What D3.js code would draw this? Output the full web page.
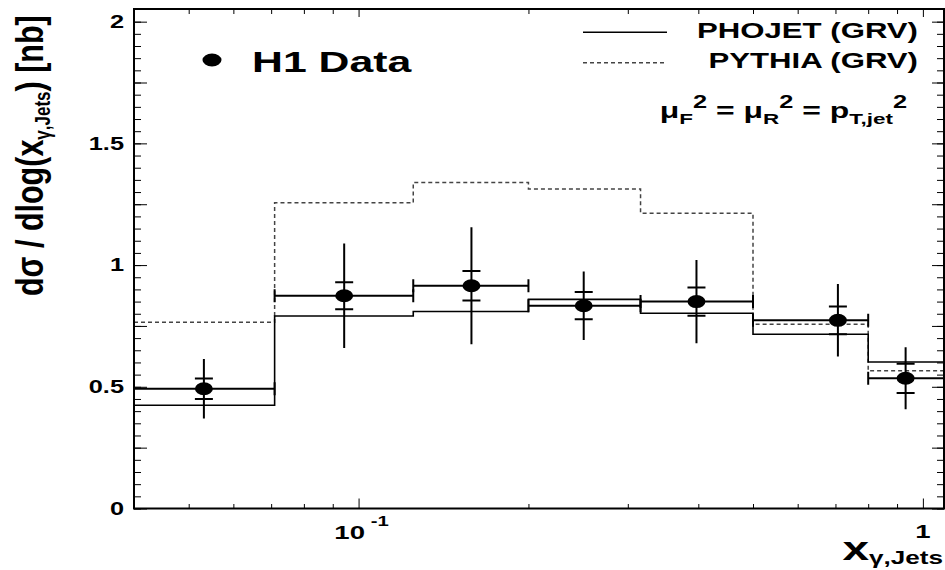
<!DOCTYPE html>
<html>
<head>
<meta charset="utf-8">
<script src="https://cdn.jsdelivr.net/npm/d3@7"></script>
<style>
  body { margin: 0; background: #fff; }
  text { font-family: "Liberation Sans", Arial, Helvetica, sans-serif; font-weight: bold; fill: #000; }
</style>
</head>
<body>
<div id="chart"></div>
<script>
// bins in x_gamma,Jets (log axis)
const binEdges = [0.04, 0.071, 0.125, 0.2, 0.316, 0.5, 0.8, 1.1];
// model predictions per bin
const phojet = [0.424, 0.791, 0.809, 0.859, 0.802, 0.716, 0.602];
const pythia = [0.765, 1.256, 1.339, 1.313, 1.213, 0.757, 0.566];
// H1 data points
const h1X = [0.0532, 0.0943, 0.1585, 0.2506, 0.397, 0.707, 0.932];
const h1Y = [0.492, 0.874, 0.915, 0.833, 0.850, 0.773, 0.535];
const h1Stat = [0.042, 0.055, 0.061, 0.056, 0.058, 0.057, 0.060];
const h1Tot = [0.122, 0.215, 0.240, 0.141, 0.171, 0.149, 0.127];
// axis ticks
const yLabelTicks = [0, 0.5, 1, 1.5, 2];
const yLabels = ["0", "0.5", "1", "1.5", "2"];
const xMajorTicks = [0.1, 1];
const xMinorTicks = [0.05, 0.06, 0.07, 0.08, 0.09, 0.2, 0.3, 0.4, 0.5, 0.6, 0.7, 0.8, 0.9];

const W = 945, H = 570;
const pLeft = 134, pRight = 944, pTop = 9, pBottom = 508.5;
const sx = 1.45; // text is drawn wide in the original

const svg = d3.select("#chart").append("svg").attr("width", W).attr("height", H);

const x = d3.scaleLog().domain([0.04, 1.09]).range([pLeft, pRight]);
const y = d3.scaleLinear().domain([0, 2.052]).range([pBottom, pTop]);

svg.append("clipPath").attr("id", "plot")
  .append("rect").attr("x", pLeft).attr("y", pTop).attr("width", pRight - pLeft).attr("height", pBottom - pTop);

// ticks ------------------------------------------------------------
function noDomain(g) { g.select(".domain").remove(); g.selectAll("line").attr("stroke", "#000").attr("stroke-width", 1); }

const yMinor = d3.range(0, 2.001, 0.05).map(v => +v.toFixed(2));
const yMid = d3.range(0, 2.001, 0.25);

svg.append("g").attr("transform", `translate(${pLeft},0)`)
  .call(d3.axisLeft(y).tickValues(yMinor).tickSize(-7).tickFormat("")).call(noDomain);
svg.append("g").attr("transform", `translate(${pLeft},0)`)
  .call(d3.axisLeft(y).tickValues(yMid).tickSize(-13).tickFormat("")).call(noDomain);
svg.append("g").attr("transform", `translate(${pRight},0)`)
  .call(d3.axisRight(y).tickValues(yMinor).tickSize(-7).tickFormat("")).call(noDomain);
svg.append("g").attr("transform", `translate(${pRight},0)`)
  .call(d3.axisRight(y).tickValues(yMid).tickSize(-12).tickFormat("")).call(noDomain);

svg.append("g").attr("transform", `translate(0,${pBottom})`)
  .call(d3.axisBottom(x).tickValues(xMinorTicks).tickSize(-4.5).tickFormat("")).call(noDomain);
svg.append("g").attr("transform", `translate(0,${pBottom})`)
  .call(d3.axisBottom(x).tickValues(xMajorTicks).tickSize(-10).tickFormat("")).call(noDomain);
svg.append("g").attr("transform", `translate(0,${pTop})`)
  .call(d3.axisTop(x).tickValues(xMinorTicks).tickSize(-5).tickFormat("")).call(noDomain);
svg.append("g").attr("transform", `translate(0,${pTop})`)
  .call(d3.axisTop(x).tickValues(xMajorTicks).tickSize(-8).tickFormat("")).call(noDomain);

// tick labels
svg.selectAll(".ylab").data(yLabelTicks).enter().append("text")
  .attr("class", "ylab")
  .attr("transform", d => `translate(124,${y(d) + 6.3}) scale(${sx},1)`)
  .attr("text-anchor", "end")
  .style("font-size", "17.5px")
  .text((d, i) => yLabels[i]);

const xl1 = svg.append("text")
  .attr("transform", `translate(${x(0.1) + 3},539) scale(${sx},1)`)
  .attr("text-anchor", "middle").style("font-size", "19px");
xl1.append("tspan").text("10");
xl1.append("tspan").attr("dx", 4).attr("dy", -13).style("font-size", "14px").text("-1");

svg.append("text")
  .attr("transform", `translate(${x(1)},538) scale(${sx},1)`)
  .attr("text-anchor", "middle").style("font-size", "19px").text("1");

// axis titles
const xt = svg.append("text")
  .attr("transform", `translate(943,560) scale(${sx},1)`)
  .attr("text-anchor", "end").style("font-size", "33px");
xt.append("tspan").text("x");
xt.append("tspan").attr("dy", 4).style("font-size", "18px").text("γ,Jets");

const yt = svg.append("text")
  .attr("transform", "translate(43,296) scale(1.3,1) rotate(-90)")
  .style("font-size", "30.5px");
yt.append("tspan").text("dσ / dlog(x");
yt.append("tspan").attr("dy", 5).style("font-size", "17px").text("γ,Jets");
yt.append("tspan").attr("dy", -5).text(") [nb]");

// histograms -------------------------------------------------------
function stepPoints(vals) {
  const pts = [];
  vals.forEach((v, i) => { pts.push([binEdges[i], v]); pts.push([binEdges[i + 1], v]); });
  return pts;
}
const line = d3.line().x(d => x(d[0])).y(d => y(d[1]));
const plot = svg.append("g").attr("clip-path", "url(#plot)");

plot.append("path").attr("d", line(stepPoints(pythia)))
  .attr("fill", "none").attr("stroke", "#444").attr("stroke-width", 1.5).attr("stroke-dasharray", "4,3");
plot.append("path").attr("d", line(stepPoints(phojet)))
  .attr("fill", "none").attr("stroke", "#000").attr("stroke-width", 1.6);

// data points
const pts = h1X.map((v, i) => ({ x: v, y: h1Y[i], s: h1Stat[i], t: h1Tot[i], lo: binEdges[i], hi: binEdges[i + 1] }));
const g = plot.selectAll(".pt").data(pts).enter().append("g").attr("stroke", "#000").attr("stroke-width", 2);
g.append("line").attr("x1", d => x(d.lo)).attr("x2", d => x(d.hi)).attr("y1", d => y(d.y)).attr("y2", d => y(d.y));
g.append("line").attr("x1", d => x(d.lo)).attr("x2", d => x(d.lo)).attr("y1", d => y(d.y) - 6.5).attr("y2", d => y(d.y) + 6.5);
g.append("line").attr("x1", d => x(d.hi)).attr("x2", d => x(d.hi)).attr("y1", d => y(d.y) - 6.5).attr("y2", d => y(d.y) + 6.5);
g.append("line").attr("x1", d => x(d.x)).attr("x2", d => x(d.x)).attr("y1", d => y(d.y + d.t)).attr("y2", d => y(d.y - d.t));
g.append("line").attr("x1", d => x(d.x) - 9).attr("x2", d => x(d.x) + 9).attr("y1", d => y(d.y + d.s)).attr("y2", d => y(d.y + d.s));
g.append("line").attr("x1", d => x(d.x) - 9).attr("x2", d => x(d.x) + 9).attr("y1", d => y(d.y - d.s)).attr("y2", d => y(d.y - d.s));
g.append("ellipse").attr("cx", d => x(d.x)).attr("cy", d => y(d.y)).attr("rx", 9).attr("ry", 6.5)
  .attr("fill", "#000").attr("stroke", "none");

// frame
svg.append("rect").attr("x", pLeft).attr("y", pTop).attr("width", pRight - pLeft).attr("height", pBottom - pTop)
  .attr("fill", "none").attr("stroke", "#000").attr("stroke-width", 2);

// legend -----------------------------------------------------------
svg.append("ellipse").attr("cx", 212).attr("cy", 60).attr("rx", 9.5).attr("ry", 6.5).attr("fill", "#000");
svg.append("text").attr("transform", `translate(252,71.5) scale(${sx},1)`).style("font-size", "29.5px").text("H1 Data");

svg.append("line").attr("x1", 583).attr("x2", 667).attr("y1", 32.3).attr("y2", 32.3)
  .attr("stroke", "#000").attr("stroke-width", 1.6);
svg.append("text").attr("transform", `translate(918,38.3) scale(${sx},1)`).attr("text-anchor", "end")
  .style("font-size", "21.5px").text("PHOJET (GRV)");
svg.append("line").attr("x1", 583).attr("x2", 667).attr("y1", 62.7).attr("y2", 62.7)
  .attr("stroke", "#444").attr("stroke-width", 1.5).attr("stroke-dasharray", "4,3");
svg.append("text").attr("transform", `translate(918,68.3) scale(${sx},1)`).attr("text-anchor", "end")
  .style("font-size", "21.5px").text("PYTHIA (GRV)");

const f = svg.append("text").attr("transform", `translate(907,118) scale(${sx},1)`).attr("text-anchor", "end")
  .style("font-size", "22px");
f.append("tspan").text("μ");
f.append("tspan").attr("dy", 6).style("font-size", "15.5px").text("F");
f.append("tspan").attr("dy", -16).style("font-size", "17.5px").text("2");
f.append("tspan").attr("dy", 10).text(" = μ");
f.append("tspan").attr("dy", 6).style("font-size", "15.5px").text("R");
f.append("tspan").attr("dy", -16).style("font-size", "17.5px").text("2");
f.append("tspan").attr("dy", 10).text(" = p");
f.append("tspan").attr("dy", 6).style("font-size", "15.5px").text("T,jet");
f.append("tspan").attr("dy", -16).style("font-size", "17.5px").text("2");
</script>
</body>
</html>
